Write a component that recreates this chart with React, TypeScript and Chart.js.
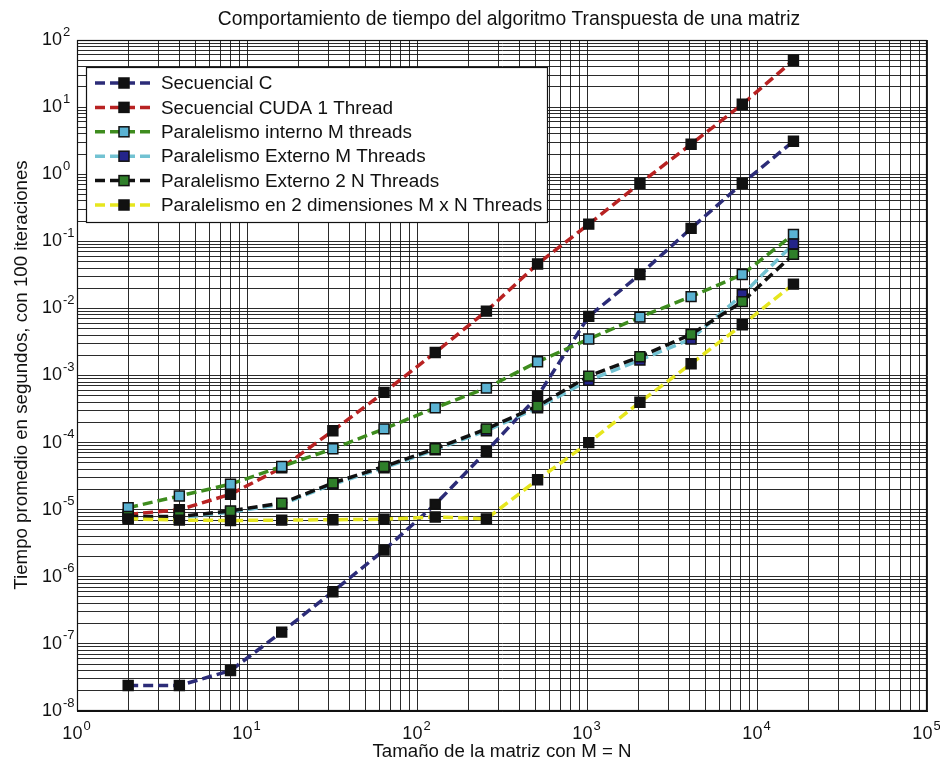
import React, { useEffect, useRef } from 'react';
import { Chart, registerables } from 'chart.js';

Chart.register(...registerables);

// Matrix sizes (M = N)
const sizes = [2, 4, 8, 16, 32, 64, 128, 256, 512, 1024, 2048, 4096, 8192, 16384];

// Average time in seconds over 100 iterations
const secuencialC = [2.4e-8, 2.4e-8, 4.0e-8, 1.5e-7, 6.0e-7, 2.5e-6, 1.2e-5, 7.4e-5, 4.9e-4, 7.6e-3, 0.032, 0.156, 0.73, 3.1];
const secuencialCuda = [8.5e-6, 1.0e-5, 1.7e-5, 4.2e-5, 1.5e-4, 5.6e-4, 2.2e-3, 9.1e-3, 0.046, 0.18, 0.73, 2.8, 11, 50];
const internoM = [1.07e-5, 1.6e-5, 2.4e-5, 4.4e-5, 8.1e-5, 1.6e-4, 3.3e-4, 6.5e-4, 1.6e-3, 3.5e-3, 7.4e-3, 0.015, 0.032, 0.127];
const externoM = [7.6e-6, 7.6e-6, 9.2e-6, 1.2e-5, 2.4e-5, 4.2e-5, 7.8e-5, 1.5e-4, 3.3e-4, 8.5e-4, 1.7e-3, 3.5e-3, 0.016, 0.091];
const externo2N = [7.9e-6, 7.9e-6, 9.6e-6, 1.25e-5, 2.5e-5, 4.4e-5, 8.1e-5, 1.6e-4, 3.5e-4, 9.8e-4, 1.9e-3, 4.1e-3, 0.0126, 0.064];
const dosDimensiones = [7.3e-6, 7.0e-6, 6.9e-6, 7.0e-6, 7.1e-6, 7.2e-6, 7.8e-6, 7.3e-6, 2.8e-5, 1.0e-4, 4.0e-4, 1.5e-3, 5.7e-3, 0.023];

const seriesLabels = [
  'Secuencial C',
  'Secuencial CUDA 1 Thread',
  'Paralelismo interno M threads',
  'Paralelismo Externo M Threads',
  'Paralelismo Externo 2 N Threads',
  'Paralelismo en 2 dimensiones M x N Threads',
];
const seriesValues = [secuencialC, secuencialCuda, internoM, externoM, externo2N, dosDimensiones];
const lineColors = ['#2c2c78', '#b82222', '#3e8c1e', '#72c2d2', '#111111', '#e6e61e'];
const markerColors = ['#111111', '#111111', '#5ab2d2', '#24248a', '#2f7f2a', '#111111'];

// Decade exponents shown on each axis
const xExponents = [0, 1, 2, 3, 4, 5];
const yExponents = [-8, -7, -6, -5, -4, -3, -2, -1, 0, 1, 2];

const title = 'Comportamiento de tiempo del algoritmo Transpuesta de una matriz';
const xTitle = 'Tamaño de la matriz con M = N';
const yTitle = 'Tiempo promedio en segundos, con 100 iteraciones';

const FONT = '"Liberation Sans", Arial, Helvetica, sans-serif';
const DASH = [10, 5];

function decadeTicks(minExp: number, maxExp: number) {
  const out: { value: number }[] = [];
  for (let e = minExp; e < maxExp; e++) {
    for (let m = 1; m <= 9; m++) out.push({ value: m * Math.pow(10, e) });
  }
  out.push({ value: Math.pow(10, maxExp) });
  return out;
}

function drawPower(ctx: CanvasRenderingContext2D, exp: number, x: number, y: number, mode: 'x' | 'y') {
  ctx.save();
  ctx.fillStyle = '#111';
  ctx.textBaseline = 'middle';
  const base = '10';
  const sup = String(exp);
  ctx.font = `18px ${FONT}`;
  const bw = ctx.measureText(base).width;
  ctx.font = `13px ${FONT}`;
  const sw = ctx.measureText(sup).width;
  const bx = mode === 'y' ? x - bw : x - (bw + sw + 2) / 2;
  ctx.font = `18px ${FONT}`;
  ctx.textAlign = 'left';
  ctx.fillText(base, bx, y);
  ctx.font = `13px ${FONT}`;
  ctx.fillText(sup, bx + bw + 1, y - 8);
  ctx.restore();
}

const decorations = {
  id: 'figureDecorations',
  afterDraw(chart: any) {
    const { ctx, chartArea, scales } = chart;
    const { left, right, top, bottom } = chartArea;

    // Axes frame
    ctx.save();
    ctx.strokeStyle = '#111';
    ctx.lineWidth = 1.2;
    ctx.strokeRect(left + 0.5, top + 0.5, right - left - 1, bottom - top - 1);
    ctx.restore();

    // Tick labels as powers of ten
    yExponents.forEach((e) => {
      const py = scales.y.getPixelForValue(Math.pow(10, e));
      drawPower(ctx, e, left - 15, py, 'y');
    });
    xExponents.forEach((e) => {
      const px = scales.x.getPixelForValue(Math.pow(10, e));
      drawPower(ctx, e, px, bottom + 23, 'x');
    });

    // Titles
    ctx.save();
    ctx.fillStyle = '#111';
    ctx.textAlign = 'center';
    ctx.textBaseline = 'alphabetic';
    ctx.font = `19.3px ${FONT}`;
    ctx.fillText(title, 509, 25);
    ctx.font = `18.7px ${FONT}`;
    ctx.fillText(xTitle, (left + right) / 2, 757);
    ctx.translate(27, 375);
    ctx.rotate(-Math.PI / 2);
    ctx.fillText(yTitle, 0, 0);
    ctx.restore();

    // Legend box in the upper-left corner of the axes
    const bx = 86, by = 67, bw = 461, bh = 155;
    ctx.save();
    ctx.fillStyle = '#fff';
    ctx.fillRect(bx, by, bw, bh);
    ctx.strokeStyle = '#111';
    ctx.lineWidth = 1.2;
    ctx.strokeRect(bx + 0.5, by + 0.5, bw, bh);
    seriesLabels.forEach((label, i) => {
      const ry = 83 + i * 24.4;
      ctx.save();
      ctx.strokeStyle = lineColors[i];
      ctx.lineWidth = 3.5;
      ctx.setLineDash(DASH);
      ctx.beginPath();
      ctx.moveTo(95, ry);
      ctx.lineTo(153, ry);
      ctx.stroke();
      ctx.restore();
      ctx.fillStyle = markerColors[i];
      ctx.strokeStyle = '#111';
      ctx.lineWidth = 1.5;
      ctx.fillRect(119, ry - 5, 10, 10);
      ctx.strokeRect(119, ry - 5, 10, 10);
      ctx.fillStyle = '#111';
      ctx.font = `18.9px ${FONT}`;
      ctx.textAlign = 'left';
      ctx.textBaseline = 'middle';
      ctx.fillText(label, 161, ry + 1);
    });
    ctx.restore();
  },
};

export default function App() {
  const canvasRef = useRef<HTMLCanvasElement | null>(null);

  useEffect(() => {
    if (!canvasRef.current) return;
    const n = seriesLabels.length;
    const datasets = seriesLabels.map((label, i) => ({
      label,
      data: sizes.map((s, j) => ({ x: s, y: seriesValues[i][j] })),
      borderColor: lineColors[i],
      backgroundColor: markerColors[i],
      borderWidth: 3.5,
      borderDash: DASH,
      pointStyle: 'rect',
      pointRadius: 7,
      pointBackgroundColor: markerColors[i],
      pointBorderColor: '#111',
      pointBorderWidth: 1.5,
      tension: 0,
      order: n - 1 - i,
    }));

    const chart = new Chart(canvasRef.current, {
      type: 'line',
      data: { datasets },
      options: {
        animation: false,
        responsive: false,
        devicePixelRatio: 1,
        events: [],
        layout: { padding: { top: 40, right: 13, left: 0, bottom: 0 } },
        plugins: { legend: { display: false }, title: { display: false }, tooltip: { enabled: false } },
        scales: {
          x: {
            type: 'logarithmic',
            min: 1,
            max: 1e5,
            afterBuildTicks: (scale: any) => { scale.ticks = decadeTicks(0, 5); },
            afterFit: (scale: any) => { scale.height = 54; },
            ticks: { display: false, autoSkip: false },
            grid: { color: 'rgba(20,20,20,0.9)', lineWidth: 1, drawTicks: false },
            border: { display: true, color: '#111', width: 1 },
          },
          y: {
            type: 'logarithmic',
            min: 1e-8,
            max: 1e2,
            afterBuildTicks: (scale: any) => { scale.ticks = decadeTicks(-8, 2); },
            afterFit: (scale: any) => { scale.width = 77; },
            ticks: { display: false, autoSkip: false },
            grid: { color: 'rgba(20,20,20,0.9)', lineWidth: 1, drawTicks: false },
            border: { display: true, color: '#111', width: 1 },
          },
        },
      },
      plugins: [decorations],
    } as any);

    return () => chart.destroy();
  }, []);

  return (
    <div style={{ position: 'fixed', left: 0, top: 0, width: 940, height: 765, background: '#fff' }}>
      <canvas ref={canvasRef} width={940} height={765} style={{ width: 940, height: 765, display: 'block' }} />
    </div>
  );
}
